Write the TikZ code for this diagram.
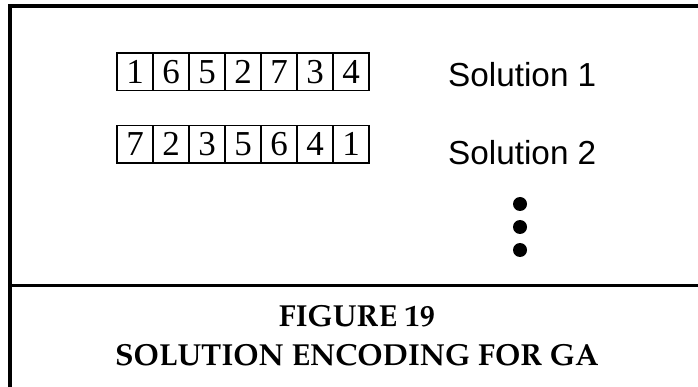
\documentclass[tikz,border=0pt]{standalone}
\usepackage{fontspec}
\newfontfamily\cellfont{Liberation Serif}
\newfontfamily\labelfont{Liberation Sans}
\newcommand{\capfont}{\fontencoding{OT1}\fontfamily{ppl}\fontseries{b}\selectfont}
\begin{document}
\begin{tikzpicture}[x=1pt,y=-1pt,
  cell/.style={draw, line width=1.4pt, minimum width=36pt, minimum height=37.5pt,
    inner sep=0pt, font=\cellfont\fontsize{35}{35}\selectfont},
  sollabel/.style={anchor=base west, inner sep=0pt, font=\labelfont\fontsize{33.3}{34}\selectfont},
  caption/.style={anchor=base, inner sep=0pt, font=\capfont\fontsize{30.4}{31}\selectfont},
  frame/.style={line width=3.2pt},
  dot/.style={circle, fill, inner sep=0pt, minimum size=14pt}]
\useasboundingbox (0,0) rectangle (698,387);
\clip (0,0) rectangle (698,387);

% frame: top edge, left edge and the rule above the caption
\coordinate (tl) at (10,6);
\coordinate (tr) at (702,6);
\coordinate (bl) at (10,390);
\coordinate (ml) at (10,285.5);
\coordinate (mr) at (702,285.5);
\draw[frame, line cap=rect] (bl) -- (tl) -- (tr);
\draw[frame] (ml) -- (mr);

% the two encoded solutions
\foreach \v [count=\i] in {1,6,5,2,7,3,4}
  \node[cell] (a\i) at ({117+18+36*(\i-1)},71.75) {\v};
\foreach \v [count=\i] in {7,2,3,5,6,4,1}
  \node[cell] (b\i) at ({117+18+36*(\i-1)},144.25) {\v};

\node[sollabel] (s1) at (448,86.5) {Solution 1};
\node[sollabel] (s2) at (448,164.5) {Solution 2};

% vertical ellipsis
\node[dot] (d1) at (520,204) {};
\node[dot] (d2) at (520,227) {};
\node[dot] (d3) at (520,250) {};

% caption
\node[caption] (c1) at (357,326.5) {FIGURE 19};
\node[caption] (c2) at (357,365) {SOLUTION ENCODING FOR GA};
\end{tikzpicture}
\end{document}
